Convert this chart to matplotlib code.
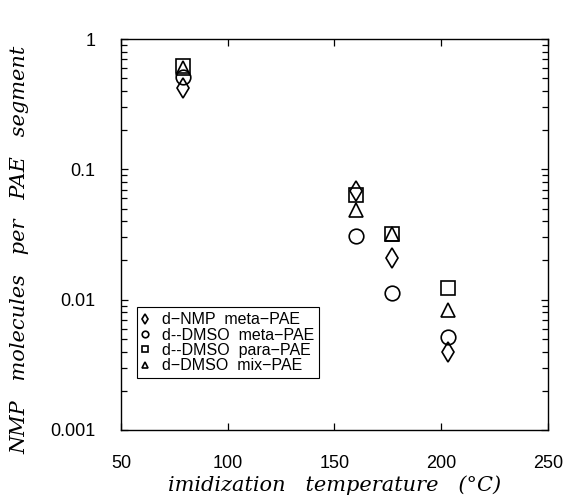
import matplotlib
matplotlib.use("Agg")
import matplotlib.pyplot as plt
from matplotlib.ticker import LogLocator, NullFormatter

# imidization temperatures (deg C)
temp_nmp_meta = [79, 160, 177, 203]
temp_dmso_meta = [79, 160, 177, 203]
temp_dmso_para = [79, 160, 177, 203]
temp_dmso_mix = [79, 160, 177, 203]

# NMP molecules per PAE segment
nmp_meta = [0.42, 0.068, 0.021, 0.0040]
dmso_meta = [0.51, 0.031, 0.0112, 0.0052]
dmso_para = [0.62, 0.063, 0.032, 0.0123]
dmso_mix = [0.60, 0.049, 0.032, 0.0083]

labels = ["d\u2212NMP  meta\u2212PAE", "d--DMSO  meta\u2212PAE",
          "d--DMSO  para\u2212PAE", "d\u2212DMSO  mix\u2212PAE"]

plt.rcParams['font.family'] = ['Liberation Sans', 'DejaVu Sans']

fig = plt.figure(figsize=(5.69, 4.99), dpi=100)
ax = fig.add_axes([0.2127, 0.1383, 0.963 - 0.2127, 0.9218 - 0.1383])

style = dict(linestyle='none', markerfacecolor='none', markeredgecolor='black',
             markeredgewidth=1.2, markersize=10.5)
ax.plot(temp_nmp_meta, nmp_meta, marker='d', label=labels[0], **style)
ax.plot(temp_dmso_meta, dmso_meta, marker='o', label=labels[1], **style)
ax.plot(temp_dmso_para, dmso_para, marker='s', label=labels[2], **style)
ax.plot(temp_dmso_mix, dmso_mix, marker='^', label=labels[3], **style)

ax.set_yscale('log')
ax.set_xlim(50, 250)
ax.set_ylim(0.001, 1)
ax.set_xticks([50, 100, 150, 200, 250])
ax.set_yticks([0.001, 0.01, 0.1, 1])
ax.set_yticklabels(["0.001", "0.01", "0.1", "1"])
ax.yaxis.set_minor_locator(LogLocator(base=10, subs=range(2, 10)))
ax.yaxis.set_minor_formatter(NullFormatter())

ax.tick_params(which='both', direction='in', top=True, right=True,
               labelsize=13, width=0.9, colors='black')
ax.tick_params(which='major', length=5)
ax.tick_params(which='minor', length=4)
ax.tick_params(axis='x', pad=18)
ax.tick_params(axis='y', pad=18.5)
for s in ax.spines.values():
    s.set_linewidth(1.0)

# axis titles in an italic serif face, spaced out like the original
ax.set_xlabel("imidization   temperature   (\u00b0C)", family='DejaVu Serif',
              style='italic', fontsize=15)
ax.xaxis.set_label_coords(0.5, -0.1164)
ax.set_ylabel("NMP   molecules   per   PAE   segment", family='DejaVu Serif',
              style='italic', fontsize=15)
ax.yaxis.set_label_coords(-0.2155, 0.46)

leg = ax.legend(loc='lower left', bbox_to_anchor=(0.0375, 0.133),
                borderaxespad=0, fontsize=11.5, markerscale=0.45,
                handlelength=0.4, handletextpad=0.86, labelspacing=0.02,
                borderpad=0.3, fancybox=False, framealpha=1,
                edgecolor='black')
leg.get_frame().set_linewidth(0.8)

fig.savefig("out.png", dpi=100)
